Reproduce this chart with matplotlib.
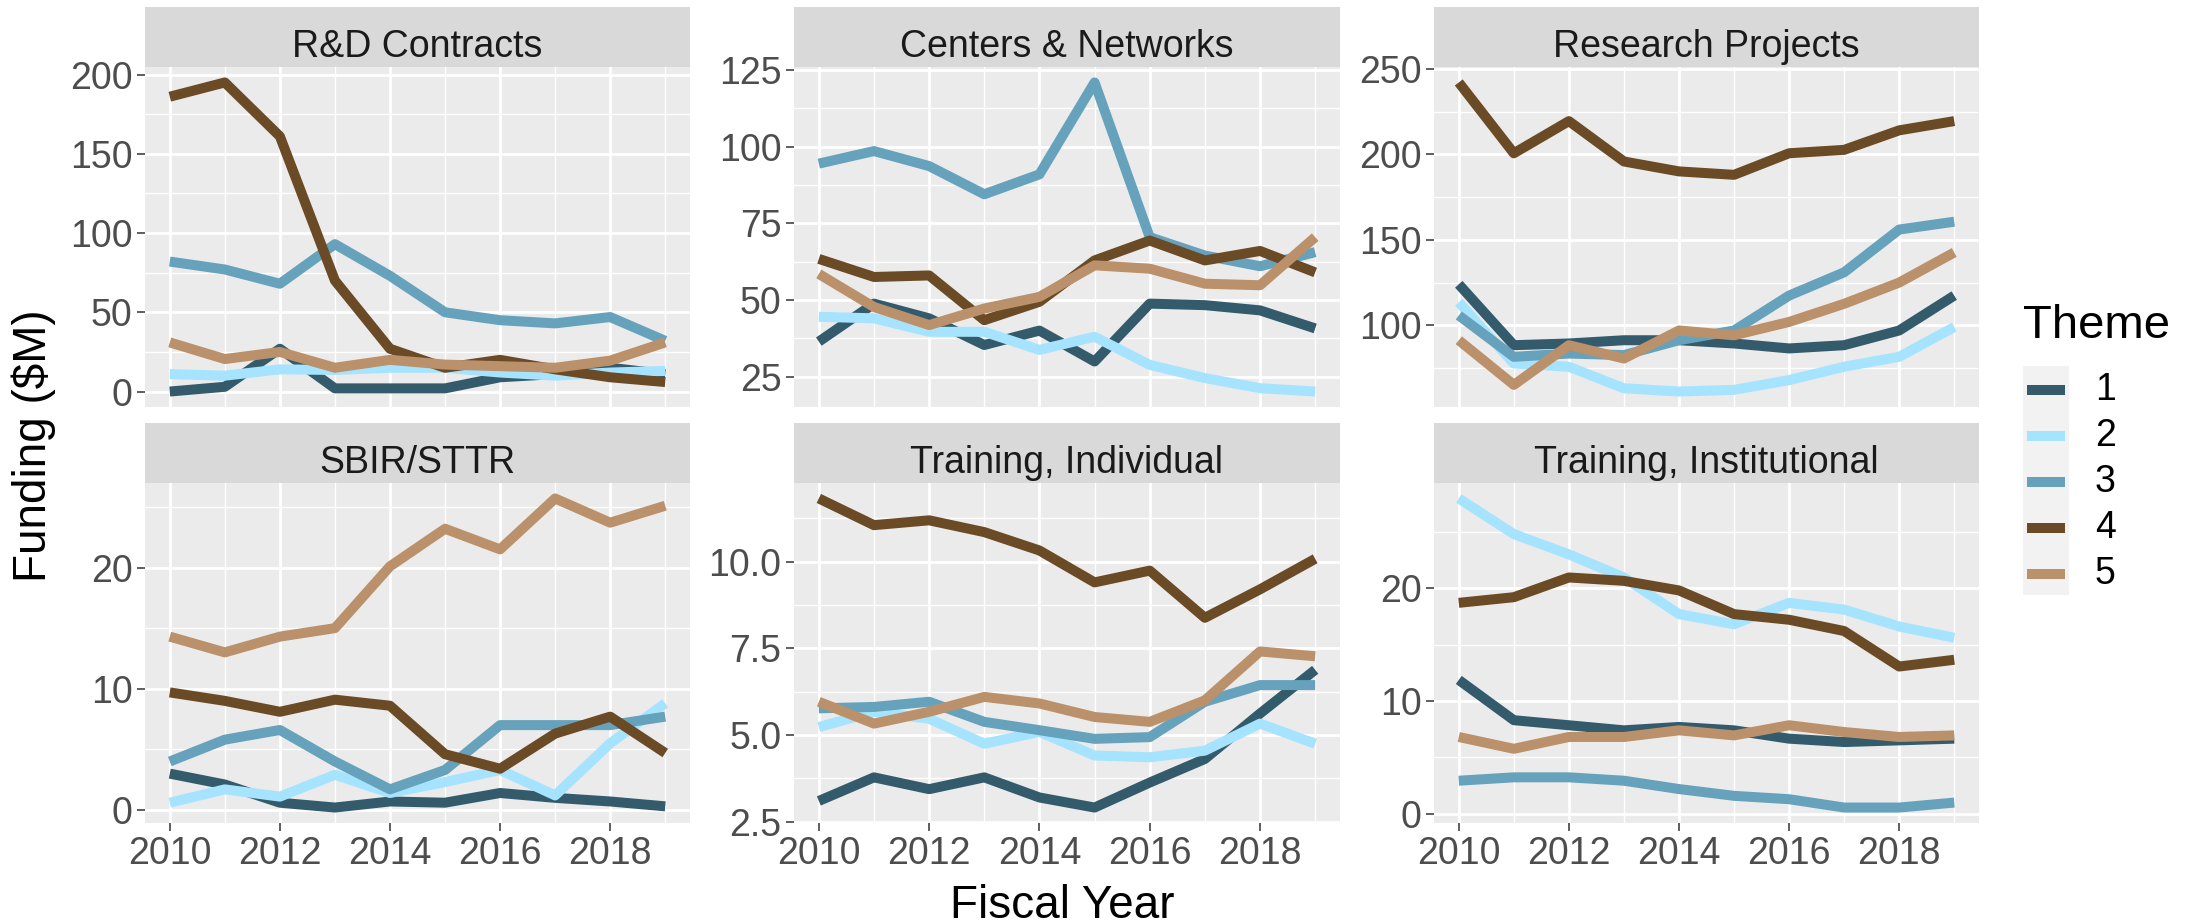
import matplotlib as mpl
mpl.use('Agg')
import matplotlib.pyplot as plt
from matplotlib.ticker import MultipleLocator
from matplotlib.patches import Rectangle

plt.rcParams['font.family'] = ['Liberation Sans', 'DejaVu Sans']

years = list(range(2010, 2020))
themes = ['1', '2', '3', '4', '5']
colors = ['#335B6C', '#A6E3FF', '#66A2BC', '#6B4A26', '#BA916A']

titles = ['R&D Contracts', 'Centers & Networks', 'Research Projects',
          'SBIR/STTR', 'Training, Individual', 'Training, Institutional']

# one list per theme (1..5), values in $M
rd_contracts = [
    [0, 3, 27, 2, 2, 2, 9, 11, 15, 11],
    [11, 10, 14, 13.6, 15, 15, 12, 10, 12, 13],
    [82, 77, 68, 93, 73, 50, 45, 43, 47, 32],
    [186, 195, 161, 70, 27, 15, 20, 14, 9, 6],
    [31, 20.5, 25, 15, 20, 17, 16, 15, 19.5, 31],
]
centers_networks = [
    [36.4, 48.8, 44, 35.3, 40, 29.9, 48.8, 48.3, 46.6, 40.7],
    [44.5, 44, 39.6, 39.6, 33.7, 38, 28.8, 24.5, 21.2, 20.1],
    [94.5, 98.6, 93.7, 84.5, 91, 121, 70.5, 64.5, 61, 65.6],
    [63.4, 57.5, 58, 43.4, 49.4, 62.9, 69.4, 62.9, 66, 59],
    [58.5, 47.7, 41.8, 47.2, 51, 61.3, 60.2, 55.3, 54.8, 70.5],
]
research_projects = [
    [124, 88.4, 89.4, 91.3, 91.3, 89.4, 86.5, 88.4, 97, 117.4],
    [113.5, 77.7, 75.8, 63.2, 61.3, 62.3, 68, 75.8, 81.6, 99],
    [105.8, 81.6, 83.5, 82.6, 91.3, 97, 117.4, 131, 156, 160.6],
    [242, 200.6, 219.4, 195.8, 190, 188, 200.6, 202.6, 214, 219.4],
    [91.3, 65.2, 88.4, 80.6, 97, 94.2, 102, 112.6, 125, 142.6],
]
sbir_sttr = [
    [3, 2.1, 0.6, 0.2, 0.7, 0.6, 1.4, 1, 0.7, 0.3],
    [0.6, 1.7, 1.1, 2.9, 1.4, 2.3, 3.3, 1.2, 5.5, 8.8],
    [4, 5.8, 6.6, 4, 1.7, 3.3, 7, 7, 7, 7.7],
    [9.7, 9, 8.1, 9.1, 8.6, 4.6, 3.4, 6.3, 7.7, 4.7],
    [14.3, 13, 14.3, 15, 20.1, 23.2, 21.5, 25.7, 23.7, 25.1],
]
training_individual = [
    [3.1, 3.78, 3.44, 3.78, 3.2, 2.91, 3.63, 4.31, 5.62, 6.88],
    [5.23, 5.67, 5.47, 4.75, 5.09, 4.41, 4.36, 4.55, 5.33, 4.75],
    [5.77, 5.81, 5.96, 5.38, 5.14, 4.89, 4.94, 5.96, 6.44, 6.44],
    [11.82, 11.05, 11.19, 10.85, 10.32, 9.4, 9.74, 8.38, 9.2, 10.08],
    [5.96, 5.33, 5.67, 6.1, 5.91, 5.52, 5.38, 6.0, 7.41, 7.27],
]
training_institutional = [
    [11.86, 8.29, 7.84, 7.39, 7.69, 7.39, 6.65, 6.35, 6.5, 6.65],
    [27.96, 24.8, 23.0, 20.95, 17.7, 16.8, 18.7, 18.1, 16.6, 15.6],
    [2.92, 3.22, 3.22, 2.92, 2.18, 1.58, 1.28, 0.54, 0.54, 0.98],
    [18.7, 19.2, 20.95, 20.65, 19.8, 17.7, 17.2, 16.2, 13.05, 13.65],
    [6.8, 5.75, 6.8, 6.8, 7.39, 6.94, 7.84, 7.24, 6.8, 6.94],
]

panels = [rd_contracts, centers_networks, research_projects,
          sbir_sttr, training_individual, training_institutional]
y_steps = [50, 25, 50, 10, 2.5, 10]

W, H = 2193, 924
fig = plt.figure(figsize=(W / 100, H / 100), dpi=100)

def px_axes(x0, x1, y0, y1):
    return fig.add_axes([x0 / W, 1 - y1 / H, (x1 - x0) / W, (y1 - y0) / H])

cols = [(145, 690), (794, 1340), (1434, 1979)]
rows = [(7, 67, 407), (423, 483, 823)]

for i, (title, data) in enumerate(zip(titles, panels)):
    r, c = divmod(i, 3)
    x0, x1 = cols[c]
    s0, s1, p1 = rows[r]

    # strip
    sax = px_axes(x0, x1, s0, s1)
    sax.set_facecolor('#D9D9D9')
    sax.set_xticks([]); sax.set_yticks([])
    for sp in sax.spines.values():
        sp.set_visible(False)
    sax.text(0.5, 10 / 60, title, ha='center', va='baseline',
             fontsize=27, color='#1A1A1A', transform=sax.transAxes)

    ax = px_axes(x0, x1, s1, p1)
    ax.set_facecolor('#EBEBEB')
    for sp in ax.spines.values():
        sp.set_visible(False)
    for k, vals in enumerate(data):
        ax.plot(years, vals, color=colors[k], lw=7.2, solid_capstyle='butt')
    ax.set_xlim(2009.55, 2019.45)
    ax.xaxis.set_major_locator(MultipleLocator(2))
    ax.xaxis.set_minor_locator(MultipleLocator(1))
    ax.yaxis.set_major_locator(MultipleLocator(y_steps[i]))
    ax.yaxis.set_minor_locator(MultipleLocator(y_steps[i] / 2))
    ax.grid(which='major', color='white', lw=2.0)
    ax.grid(which='minor', color='white', lw=1.0)
    ax.set_axisbelow(True)
    ax.tick_params(which='major', length=5.5, width=1.1, color='#333333',
                   labelsize=27, labelcolor='#4D4D4D', pad=3.5)
    ax.tick_params(which='minor', length=0)
    if r == 0:
        ax.tick_params(axis='x', which='both', length=0, labelbottom=False)

fig.text(1062 / W, 1 - 918 / H, 'Fiscal Year', ha='center', va='baseline',
         fontsize=33, color='black')
fig.text(34 / W, 1 - 446 / H, 'Funding ($M)', ha='center', va='center',
         rotation=90, fontsize=33, color='black')

# legend drawn in pixel coordinates
lax = px_axes(2000, 2193, 280, 620)
lax.set_xlim(2000, 2193)
lax.set_ylim(620, 280)
lax.axis('off')
lax.text(2023, 338, 'Theme', ha='left', va='baseline', fontsize=34, color='black')
lax.add_patch(Rectangle((2023, 366), 46, 229, facecolor='#F2F2F2', edgecolor='none'))
for k, name in enumerate(themes):
    yk = 390 + 46 * k
    lax.plot([2027, 2065], [yk, yk], color=colors[k], lw=7.2, solid_capstyle='butt')
    lax.text(2095, yk, name, ha='left', va='center', fontsize=27, color='black')

fig.savefig('out.png', dpi=100)
